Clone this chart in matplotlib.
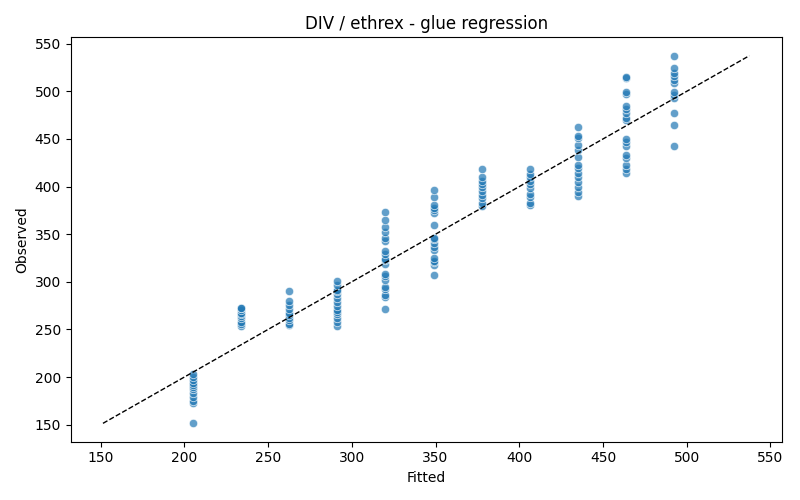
import numpy as np
import matplotlib
matplotlib.use("Agg")
import matplotlib.pyplot as plt

# fitted levels (one column of points per level)
fitted_levels = [205.2, 233.9, 262.7, 291.4, 320.1, 348.8, 377.6, 406.3, 435.0, 463.7, 492.5]

obs_205 = [151.4, 173, 175, 179, 183, 187, 190, 192, 194, 197, 200, 203]
obs_234 = [254, 256, 258, 262, 264, 266, 267, 270, 272, 273]
obs_263 = [254.5, 256, 259.5, 262, 265, 267, 271, 275.3, 279.5, 290.7]
obs_291 = [254, 257.4, 261.6, 265.8, 268, 270, 274.2, 278.7, 283.4, 287.6, 290, 291.8, 296.3, 300.8]
obs_320 = [271.1, 284, 286, 292.8, 295, 301.6, 305.8, 308.6, 319.2, 323, 324.4, 328.9, 332.4,
           342.9, 346.5, 351.8, 357.7, 364.7, 372.8]
obs_349 = [306.8, 317.4, 320.8, 322, 325.5, 333.2, 336.6, 340.8, 344.9, 346.5, 359.5, 372.4,
           375.3, 377, 380.5, 388.6, 396.3]
obs_378 = [379.5, 382.3, 387.6, 391.1, 395.6, 399.2, 402.6, 406.1, 410.3, 418.4]
obs_406 = [380.5, 382.3, 389.3, 392.1, 398.1, 402.6, 406.1, 409.7, 413.2, 418.4]
obs_435 = [390, 394.5, 399.8, 405.1, 410.3, 414.5, 419.2, 422.6, 430.7, 438.4, 443.7, 450.7,
           453.2, 462.3]
obs_464 = [413.9, 418.1, 422.6, 429.7, 433.2, 442.6, 447.2, 449.7, 470, 471.8, 477, 481.3,
           484.7, 497.4, 499.8, 514, 515]
obs_493 = [442.6, 464.7, 477, 492.8, 496.3, 499.8, 508.6, 512.1, 516.3, 519.2, 524.4, 537.4]

observed_groups = [obs_205, obs_234, obs_263, obs_291, obs_320, obs_349,
                   obs_378, obs_406, obs_435, obs_464, obs_493]

fitted = np.concatenate([[f] * len(g) for f, g in zip(fitted_levels, observed_groups)])
observed = np.concatenate(observed_groups)

fig, ax = plt.subplots(figsize=(8, 5), dpi=100)
ax.scatter(fitted, observed, s=36, color="#1f77b4", alpha=0.7,
           edgecolors="white", linewidths=0.6, zorder=2)

lo = min(fitted.min(), observed.min())
hi = max(fitted.max(), observed.max())
ax.plot([lo, hi], [lo, hi], "k--", linewidth=1, zorder=3)

ax.set_title("DIV / ethrex - glue regression")
ax.set_xlabel("Fitted")
ax.set_ylabel("Observed")

fig.tight_layout()
fig.savefig("out.png")
